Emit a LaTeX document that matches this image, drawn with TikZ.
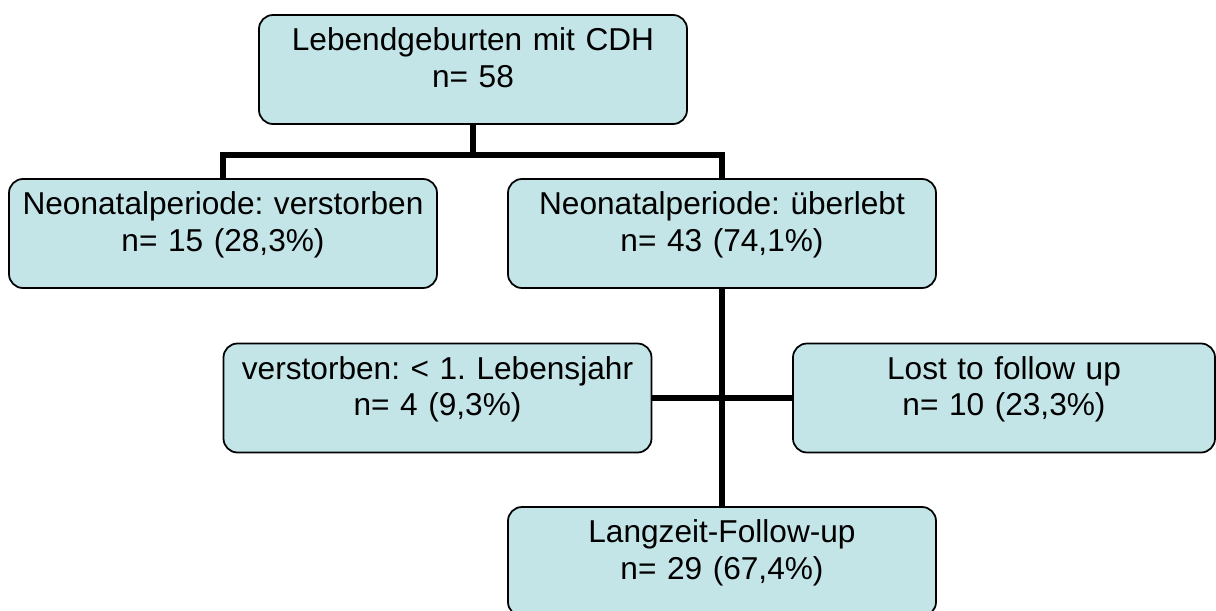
\documentclass[tikz,border=0pt]{standalone}
\usepackage{fontspec}
\setmainfont{Liberation Sans}
\usepackage{xcolor}
\usepackage{tikz}
\usetikzlibrary{positioning}
\definecolor{boxfill}{RGB}{196,229,232}
\frenchspacing

\begin{document}
\begin{tikzpicture}[
                    box/.style={draw=black, line width=1pt, fill=boxfill, rounded corners=0.28cm,
                                inner sep=0pt, text width=8.56cm, align=center,
                                text height=0.71cm, text depth=1.47cm,
                                font=\fontsize{18pt}{21pt}\selectfont},
                    conn/.style={line width=3.4pt, black},
                   ]

\useasboundingbox (0,0) rectangle (24.32,-12.2);

% boxes
\node[box] (birth) at (9.46,-1.39) {Lebendgeburten mit CDH\\n= 58};
\node[box] (died)  at (4.46,-4.67) {Neonatalperiode: verstorben\\n= 15 (28,3\%)};
\node[box] (alive) at (14.44,-4.67) {Neonatalperiode: überlebt\\n= 43 (74,1\%)};
\node[box] (year)  at (8.75,-7.96) {verstorben: < 1. Lebensjahr\\n= 4 (9,3\%)};
\node[box, text width=8.44cm] (lost) at (20.08,-7.96) {Lost to follow up\\n= 10 (23,3\%)};
\node[box] (long)  at (14.44,-11.23) {Langzeit-Follow-up\\n= 29 (67,4\%)};

% connectors
\coordinate (split) at (9.46,-3.10);
\draw[conn] (birth.south) -- (split);
\draw[conn] (split) -| (died.north);
\draw[conn] (split) -| (alive.north);
\draw[conn] (alive.south) -- (long.north);
\draw[conn] (year.east) -- (lost.west);

\end{tikzpicture}
\end{document}
